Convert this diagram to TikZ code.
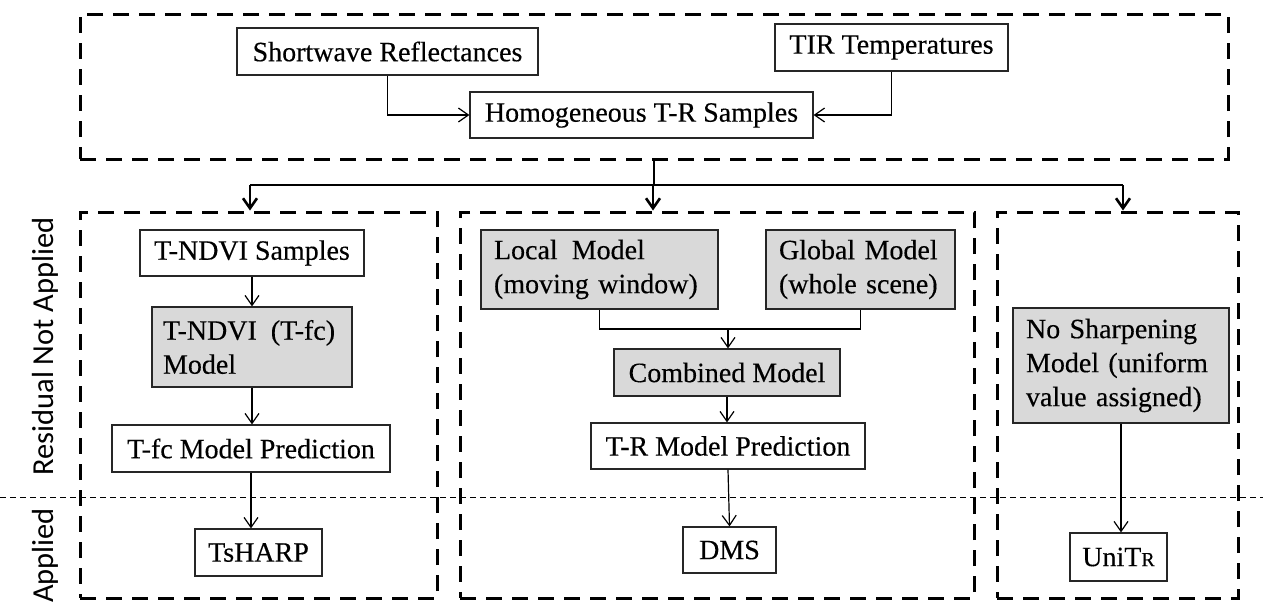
\documentclass[tikz,border=0pt]{standalone}
\usepackage{fontspec}
\setmainfont[FakeBold=0.3]{Liberation Serif}
\newfontfamily\labelfont{Carlito}
\usetikzlibrary{arrows.meta}
\definecolor{boxgray}{HTML}{D9D9D9}
\begin{document}
\begin{tikzpicture}[x=1pt,y=-1pt,
  box/.style={draw=black!85, line width=1.2pt, fill=white, font=\fontsize{28}{34}\selectfont, inner sep=0pt, align=center},
  gbox/.style={box, fill=boxgray, align=left, inner xsep=13pt, inner ysep=0pt},
  cbox/.style={box, fill=boxgray},
  dbox/.style={draw=black, line width=3pt, dash pattern=on 16pt off 10pt, inner sep=0pt},
  arr/.style={-{Straight Barb[length=10pt,width=14pt]}, line width=1.2pt},
  conn/.style={line width=1.2pt},
  busline/.style={line width=2.6pt},
  busarr/.style={busline, -{Straight Barb[length=10pt,width=14pt]}},
  side/.style={font=\labelfont\fontsize{30.5}{36}\selectfont, rotate=90, anchor=base, inner sep=0pt},
  sep/.style={line width=1pt, dash pattern=on 6pt off 4pt}
]
\useasboundingbox (0,0) rectangle (1263,603);

% dashed group frames
\node[dbox, minimum width=1148pt, minimum height=145pt] (top) at (654,86.5) {};
\node[dbox, minimum width=357pt, minimum height=386pt] (left) at (258.5,405) {};
\node[dbox, minimum width=514pt, minimum height=386pt] (mid) at (717,405) {};
\node[dbox, minimum width=241pt, minimum height=386pt] (right) at (1117.5,405) {};

% separator line
\coordinate (sl) at (0,497);
\coordinate (sr) at (1263,497);
\draw[sep] (sl) -- (sr);

% side labels
\node[side] (lab1) at (53,346.5) {Residual Not Applied};
\node[side] (lab2) at (53,555.5) {Applied};

% top group
\node[box, minimum width=301pt, minimum height=47pt] (sw) at (387.5,51.5) {Shortwave Reflectances};
\node[box, minimum width=233pt, minimum height=47pt] (tir) at (891.5,47.5) {TIR Temperatures};
\node[box, minimum width=343pt, minimum height=46pt] (hom) at (641.5,115) {Homogeneous T-R Samples};
\draw[arr] (sw.south) |- (hom.west);
\draw[arr] (tir.south) |- (hom.east);

% bus
\coordinate (bc) at (654,185);
\coordinate (bl) at (250,185);
\coordinate (bm) at (653,185);
\coordinate (br) at (1123,185);
\draw[busline] (top.south) -- (bc);
\draw[busline] (bl) -- (br);
\draw[busarr] (bl) -- (bl |- left.north);
\draw[busarr] (bm) -- (bm |- mid.north);
\draw[busarr] (br) -- (br |- right.north);

% left column
\node[box, minimum width=224pt, minimum height=46pt] (tns) at (252,253) {T-NDVI Samples};
\node[gbox, inner xsep=11pt, text width=178pt, minimum height=80pt] (tnm) at (252,347) {T-NDVI\hspace*{14pt}(T-fc)\\Model};
\node[box, minimum width=278pt, minimum height=47pt] (tfc) at (251,448.5) {T-fc Model Prediction};
\node[box, minimum width=127pt, minimum height=47pt] (tsh) at (258.5,552.5) {TsHARP};
\draw[arr] (tns.south) -- (tnm.north);
\draw[arr] (tnm.south) -- (tnm.south |- tfc.north);
\draw[arr] (tfc.south) -- (tfc.south |- tsh.north);

% middle column
\node[gbox, text width=211pt, minimum height=79pt] (loc) at (599.5,269.5) {Local\hspace*{14pt}Model\\(moving window)};
\node[gbox, text width=163pt, minimum height=79pt] (glo) at (860.5,269.5) {Global Model\\(whole scene)};
\coordinate (jn) at (728,329);
\node[cbox, minimum width=226pt, minimum height=47pt] (cmb) at (727,372.5) {Combined Model};
\node[box, minimum width=274pt, minimum height=46pt] (trm) at (728,446) {T-R Model Prediction};
\node[box, minimum width=93pt, minimum height=46pt] (dms) at (729.5,550) {DMS};
\draw[conn] (loc.south) |- (jn);
\draw[conn] (glo.south) |- (jn);
\draw[arr] (jn) -- (jn |- cmb.north);
\draw[arr] (cmb.south) -- (cmb.south |- trm.north);
\draw[arr] (trm.south) -- (dms.north);

% right column
\node[gbox, text width=190pt, minimum height=115pt] (nsh) at (1121,365.5) {No Sharpening\\Model (uniform\\value assigned)};
\node[box, minimum width=97pt, minimum height=48pt] (uni) at (1118.5,557) {UniT{\fontsize{20}{24}\selectfont R}};
\draw[arr] (nsh.south) -- (nsh.south |- uni.north);
\end{tikzpicture}
\end{document}
